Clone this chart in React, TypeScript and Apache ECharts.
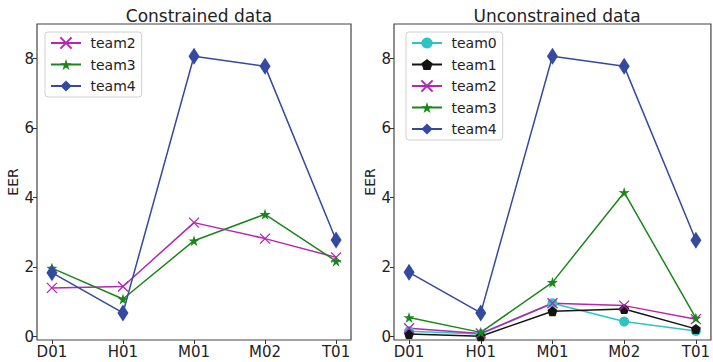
import React, { useEffect, useRef } from "react";
import * as echarts from "echarts";

const categories = ["D01", "H01", "M01", "M02", "T01"];
const yTicks = [0, 2, 4, 6, 8];

// Constrained data
const cTeam2 = [1.4, 1.44, 3.28, 2.82, 2.28];
const cTeam3 = [1.97, 1.08, 2.76, 3.52, 2.17];
const cTeam4 = [1.84, 0.68, 8.07, 7.78, 2.78];

// Unconstrained data
const uTeam0 = [0.15, 0.07, 0.96, 0.43, 0.16];
const uTeam1 = [0.07, 0.01, 0.73, 0.79, 0.22];
const uTeam2 = [0.24, 0.09, 0.96, 0.89, 0.5];
const uTeam3 = [0.55, 0.12, 1.56, 4.15, 0.53];
const uTeam4 = [1.85, 0.68, 8.07, 7.78, 2.77];

const STAR =
  "path://M50,0L61.17,34.63L97.55,34.55L68.07,55.87L79.39,90.45L50,69L20.61,90.45L31.93,55.87L2.45,34.55L38.83,34.63Z";
const PENT = "path://M50,0L97.55,34.55L79.39,90.45L20.61,90.45L2.45,34.55Z";
const XMARK = "path://M0,0L10,10M10,0L0,10";

const styles: Record<string, any> = {
  team0: { color: "#2ec4c4", symbol: "circle", symbolSize: 10 },
  team1: { color: "#141414", symbol: PENT, symbolSize: [10, 10] },
  team2: { color: "#b526b5", symbol: XMARK, symbolSize: [10, 10], stroke: true },
  team3: { color: "#1b861b", symbol: STAR, symbolSize: [11, 11] },
  team4: { color: "#3449a0", symbol: "diamond", symbolSize: [11, 17] },
};

const FONT = "DejaVu Sans";
const TXT = "#222";

function mk(name: string, values: number[], idx: number) {
  const s = styles[name];
  return {
    type: "line",
    name,
    xAxisIndex: idx,
    yAxisIndex: idx,
    data: values.map((v, i) => [i, v]),
    symbol: s.symbol,
    symbolSize: s.symbolSize,
    showSymbol: true,
    lineStyle: { color: s.color, width: 1.5 },
    itemStyle: s.stroke
      ? { color: s.color, borderColor: s.color, borderWidth: 1.3 }
      : { color: s.color, borderWidth: 0 },
    emphasis: { disabled: true },
  };
}

function xAxis(idx: number) {
  return {
    type: "value",
    gridIndex: idx,
    min: -0.21,
    max: 4.21,
    splitLine: { show: false },
    axisLine: { show: false, onZero: false },
    axisTick: { show: true, length: 4, customValues: [0, 1, 2, 3, 4], lineStyle: { color: "#333" } },
    axisLabel: {
      customValues: [0, 1, 2, 3, 4],
      formatter: (v: number) => categories[Math.round(v)] ?? "",
      fontSize: 15,
      fontFamily: FONT,
      color: TXT,
      margin: 4,
    },
  };
}

function yAxis(idx: number) {
  return {
    type: "value",
    gridIndex: idx,
    min: -0.1,
    max: 9,
    name: "EER",
    nameLocation: "middle",
    nameGap: 17,
    nameTextStyle: { fontSize: 14, fontFamily: FONT, color: TXT },
    splitLine: { show: false },
    axisLine: { show: false, onZero: false },
    axisTick: { show: true, length: 4, customValues: yTicks, lineStyle: { color: "#333" } },
    axisLabel: {
      customValues: yTicks,
      fontSize: 15,
      fontFamily: FONT,
      color: TXT,
      margin: 3,
    },
  };
}

function legend(left: number, names: string[]) {
  return {
    orient: "vertical",
    left,
    top: 32,
    data: names,
    itemWidth: 30,
    itemHeight: 14,
    itemGap: 7.5,
    padding: [4, 6, 4, 5],
    borderColor: "#d0d0d0",
    borderWidth: 1,
    borderRadius: 3,
    formatter: (n: string) => " " + n,
    textStyle: { fontSize: 14, fontFamily: FONT, color: TXT },
    selectedMode: false,
  };
}

export default function App() {
  const ref = useRef<HTMLDivElement>(null);
  useEffect(() => {
    if (!ref.current) return;
    const chart = echarts.init(ref.current, null, { renderer: "svg" });
    chart.setOption({
      animation: false,
      backgroundColor: "#fff",
      title: [
        {
          text: "Constrained data",
          left: 194,
          top: 2,
          textAlign: "center",
          textStyle: { fontSize: 17, fontWeight: "normal", fontFamily: FONT, color: TXT },
        },
        {
          text: "Unconstrained data",
          left: 552,
          top: 2,
          textAlign: "center",
          textStyle: { fontSize: 17, fontWeight: "normal", fontFamily: FONT, color: TXT },
        },
      ],
      grid: [
        { left: 37, right: 362, top: 24, bottom: 22, show: true, borderColor: "#444", borderWidth: 1.2, backgroundColor: "transparent" },
        { left: 394, right: 2, top: 24, bottom: 22, show: true, borderColor: "#444", borderWidth: 1.2, backgroundColor: "transparent" },
      ],
      legend: [
        legend(45, ["team2", "team3", "team4"]),
        legend(406, ["team0", "team1", "team2", "team3", "team4"]),
      ],
      xAxis: [xAxis(0), xAxis(1)],
      yAxis: [yAxis(0), yAxis(1)],
      series: [
        mk("team2", cTeam2, 0),
        mk("team3", cTeam3, 0),
        mk("team4", cTeam4, 0),
        mk("team0", uTeam0, 1),
        mk("team1", uTeam1, 1),
        mk("team2", uTeam2, 1),
        mk("team3", uTeam3, 1),
        mk("team4", uTeam4, 1),
      ],
    });
    return () => chart.dispose();
  }, []);
  return <div ref={ref} style={{ width: 713, height: 362, position: "absolute", left: 0, top: 0 }} />;
}
